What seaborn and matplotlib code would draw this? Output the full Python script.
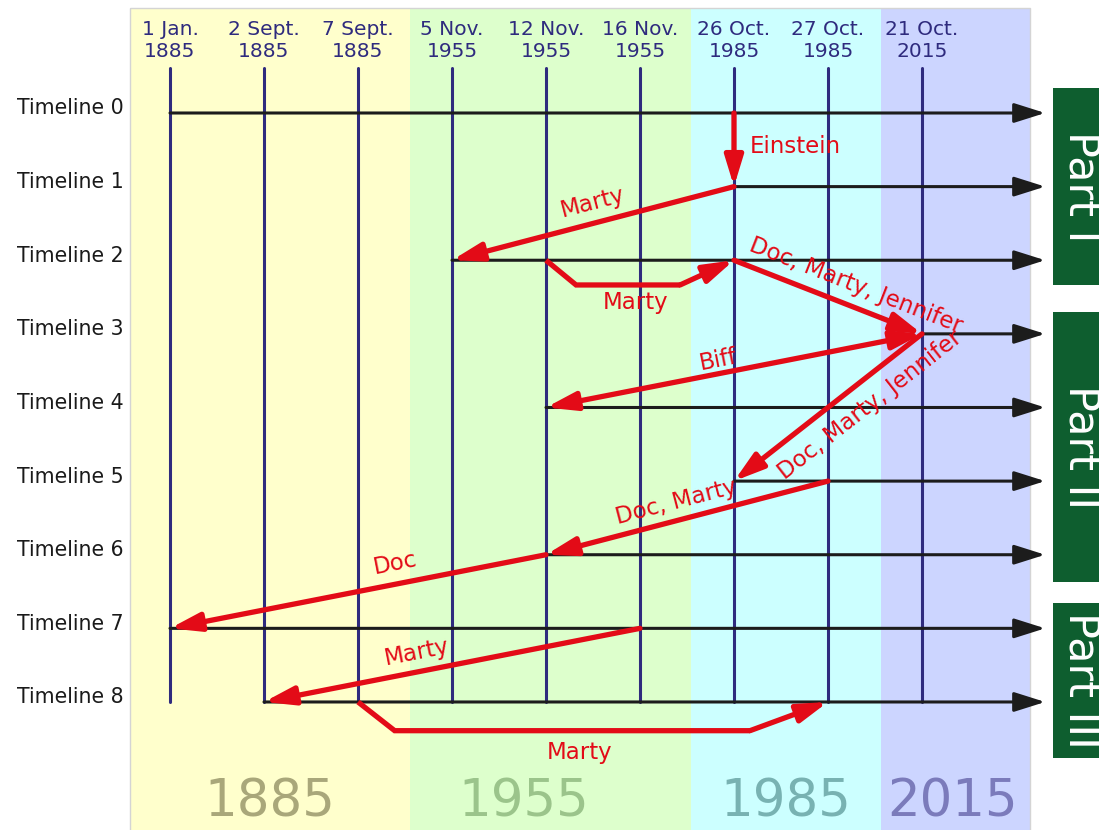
import matplotlib
matplotlib.use("Agg")
import matplotlib.pyplot as plt
import numpy as np
import pandas as pd
import seaborn as sns
from matplotlib.patches import Rectangle

# ---- data -----------------------------------------------------------------
DATES = ["1 Jan.\n1885", "2 Sept.\n1885", "7 Sept.\n1885",
         "5 Nov.\n1955", "12 Nov.\n1955", "16 Nov.\n1955",
         "26 Oct.\n1985", "27 Oct.\n1985", "21 Oct.\n2015"]
TIMELINES = [f"Timeline {i}" for i in range(9)]
# index of the date where each timeline branches off
TIMELINE_START = [0, 6, 3, 8, 4, 6, 4, 0, 1]

ERAS = ["1885", "1955", "1985", "2015"]

# time trips: (date index, timeline index) -> (date index, timeline index)
TRIP_FROM_DATE = [6, 6, 4, 6, 8, 8, 7, 4, 5, 2]
TRIP_FROM_TL = [0, 1, 2, 2, 3, 3, 5, 6, 7, 8]
TRIP_TO_DATE = [6, 3, 6, 8, 4, 6, 4, 0, 1, 7]
TRIP_TO_TL = [1, 2, 2, 3, 4, 5, 6, 7, 8, 8]
TRIP_WHO = ["Einstein", "Marty", "Marty", "Doc, Marty, Jennifer", "Biff",
            "Doc, Marty, Jennifer", "Doc, Marty", "Doc", "Marty", "Marty"]
TRIP_BOTH_WAYS = [False, False, False, False, True, False, False, False, False, False]

PARTS = ["Part I", "Part II", "Part III"]

# ---- layout / style -------------------------------------------------------
ERA_EDGES = [-0.426, 2.553, 5.543, 7.564, 9.149]
ERA_BG = ["#ffffcc", "#ddffcc", "#ccffff", "#ccd5ff"]
ERA_FG = ["#a9a77a", "#9bc48b", "#78b2b2", "#7b7bbb"]
ERA_LABEL_X = [1.06, 3.76, 6.55, 8.33]
PART_SPAN = [(-0.34, 2.336), (2.70, 6.37), (6.655, 8.76)]
# label placement (date units, timeline units); horizontal labels get no rotation
LABEL_POS = [(6.65, 0.45), (4.50, 1.22), (4.95, 2.57), (7.30, 2.35), (5.83, 3.35),
             (7.45, 3.97), (5.39, 5.28), (2.40, 6.12), (2.62, 7.33), (4.36, 8.69)]
LABEL_ALONG = [False, True, False, True, True, True, True, True, True, False]
# detours for trips inside the same timeline: (drop, inset start, inset end)
DETOUR = {2: (0.336, 0.32, 0.574), 9: (0.39, 0.39, 0.83)}

RED = "#e30b17"
NAVY = "#2f2b7e"
BLACK = "#1c1c1c"
ARROW_END = 9.31


def main():
    sns.set_theme(style="white")
    plt.rcParams["font.family"] = ["DejaVu Sans"]

    fig = plt.figure(figsize=(10.99, 8.30), dpi=100)
    ax = fig.add_axes([0, 0, 1, 1])

    # era bands
    for i, era in enumerate(ERAS):
        ax.add_patch(Rectangle((ERA_EDGES[i], -1.426), ERA_EDGES[i + 1] - ERA_EDGES[i], 12,
                               facecolor=ERA_BG[i], edgecolor="none", zorder=0))
        ax.text(ERA_LABEL_X[i], 9.56, era, color=ERA_FG[i], fontsize=37,
                ha="center", va="baseline", zorder=1)
    ax.add_patch(Rectangle((ERA_EDGES[0], -1.426), ERA_EDGES[-1] - ERA_EDGES[0], 12,
                           facecolor="none", edgecolor="#d4d4d4", lw=1, zorder=1))

    # date lines
    n = len(DATES)
    df = pd.DataFrame({"date": np.repeat(np.arange(n), 2),
                       "x": np.repeat(np.arange(n), 2).astype(float),
                       "y": np.tile([-0.61, len(TIMELINES) - 1], n)})
    sns.lineplot(data=df, x="x", y="y", units="date", estimator=None, sort=False,
                 color=NAVY, lw=2.2, legend=False, ax=ax, zorder=2)
    for i, d in enumerate(DATES):
        ax.text(i, -0.76, d, color=NAVY, fontsize=14.5, ha="center", va="baseline",
                multialignment="center", linespacing=1.2)

    # timelines
    for t, (name, start) in enumerate(zip(TIMELINES, TIMELINE_START)):
        ax.annotate("", xy=(ARROW_END, t), xytext=(start, t),
                    arrowprops=dict(arrowstyle="-|>,head_length=19,head_width=6",
                                    mutation_scale=1, color=BLACK, lw=2.2,
                                    shrinkA=0, shrinkB=0), zorder=3)
        ax.text(-0.49, t + 0.02, name, color="#1a1a1a", fontsize=14.8,
                ha="right", va="baseline")

    # trips
    for k in range(len(TRIP_WHO)):
        x0, y0 = TRIP_FROM_DATE[k], TRIP_FROM_TL[k]
        x1, y1 = TRIP_TO_DATE[k], TRIP_TO_TL[k]
        if k in DETOUR:
            drop, ins0, ins1 = DETOUR[k]
            ax.plot([x0, x0 + ins0, x1 - ins1], [y0, y0 + drop, y1 + drop], color=RED,
                    lw=3.8, solid_joinstyle="miter", solid_capstyle="butt", zorder=4)
            x0, y0 = x1 - ins1, y1 + drop
        style = "<|-|>" if TRIP_BOTH_WAYS[k] else "-|>"
        ax.annotate("", xy=(x1, y1), xytext=(x0, y0),
                    arrowprops=dict(arrowstyle=f"{style},head_length=18,head_width=5.5",
                                    mutation_scale=1, color=RED, lw=3.8,
                                    shrinkA=0, shrinkB=0), zorder=4)

    ax.set_xlim(-1.8085, 9.883)
    ax.set_ylim(9.739, -1.5348)
    fig.canvas.draw()

    for k, who in enumerate(TRIP_WHO):
        angle = 0.0
        if LABEL_ALONG[k]:
            p0 = ax.transData.transform((TRIP_FROM_DATE[k], TRIP_FROM_TL[k]))
            p1 = ax.transData.transform((TRIP_TO_DATE[k], TRIP_TO_TL[k]))
            angle = np.degrees(np.arctan2(p1[1] - p0[1], p1[0] - p0[0]))
            if angle > 90:
                angle -= 180
            elif angle <= -90:
                angle += 180
        ax.text(*LABEL_POS[k], who, color=RED, fontsize=16.5, rotation=angle,
                rotation_mode="anchor", ha="center", va="center", zorder=5)

    # movie parts
    for part, (top, bottom) in zip(PARTS, PART_SPAN):
        ax.add_patch(Rectangle((9.394, top), 2, bottom - top, facecolor="#0e5e2f",
                               edgecolor="none", zorder=2))
        ax.text(9.574, (top + bottom) / 2, part, color="white", fontsize=31,
                rotation=-90, rotation_mode="anchor", ha="center", va="baseline", zorder=3)

    ax.axis("off")
    fig.savefig("out.png", dpi=100, facecolor="white")
    plt.close(fig)


if __name__ == "__main__":
    main()
